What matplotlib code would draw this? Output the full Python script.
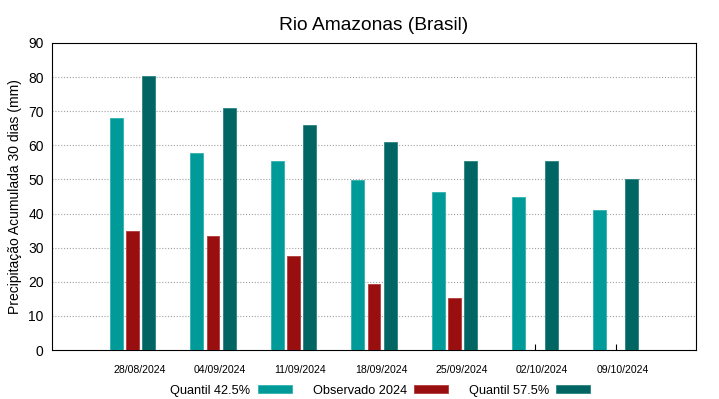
import numpy as np
import matplotlib.pyplot as plt
import matplotlib.transforms as mtransforms

plt.rcParams['font.family'] = ['Liberation Sans', 'DejaVu Sans']

datas = ['28/08/2024', '04/09/2024', '11/09/2024', '18/09/2024',
         '25/09/2024', '02/10/2024', '09/10/2024']
q425 = [68.0, 57.7, 55.4, 49.9, 46.4, 45.0, 40.9]
obs2024 = [35.0, 33.4, 27.5, 19.4, 15.3, np.nan, np.nan]
q575 = [80.4, 71.0, 66.1, 60.9, 55.4, 55.4, 50.2]

x = np.arange(len(datas))
w = 0.16
off = 0.2

fig = plt.figure(figsize=(7.19, 3.99), dpi=100)
ax = fig.add_axes([52/719, 49/399, 644/719, 307/399])

ax.bar(x - off, q425, w, color='#009a99', edgecolor='#2fb2b0', lw=0.6,
       label='Quantil 42.5%', zorder=3)
ax.bar(x, obs2024, w, color='#990e0e', edgecolor='#b03a3a', lw=0.6,
       label='Observado 2024', zorder=3)
ax.bar(x + off, q575, w, color='#006563', edgecolor='#2a8380', lw=0.6,
       label='Quantil 57.5%', zorder=3)

ax.set_xlim(-1, 7)
ax.set_ylim(0, 90)
ax.set_yticks(np.arange(0, 91, 10))
ax.set_xticks(x)
ax.set_xticklabels(datas, fontsize=7.6)
ax.tick_params(axis='x', direction='in', length=4, width=0.8, pad=11)
ax.tick_params(axis='y', length=0, labelsize=10, pad=6)
# os rótulos das datas ficam um pouco à direita do tick
shift = mtransforms.ScaledTranslation(7/100, 0, fig.dpi_scale_trans)
for lab in ax.get_xticklabels():
    lab.set_transform(lab.get_transform() + shift)
for yy in range(10, 90, 10):
    ax.axhline(yy, color='#a0a0a0', ls=(0, (1, 1.6)), lw=0.8, zorder=1)
for s in ax.spines.values():
    s.set_linewidth(0.8)

ax.set_ylabel('Precipitação Acumulada 30 dias (mm)', fontsize=10, labelpad=4)
ax.set_title('Rio Amazonas (Brasil)', fontsize=13.8, pad=9)

ax.legend(loc='upper center', bbox_to_anchor=(0.51, -0.075), ncol=3,
          frameon=False, markerfirst=False, fontsize=9.2,
          handlelength=2.7, handleheight=0.5, columnspacing=1.6,
          handletextpad=0.55)

plt.savefig('out.png', dpi=100)
